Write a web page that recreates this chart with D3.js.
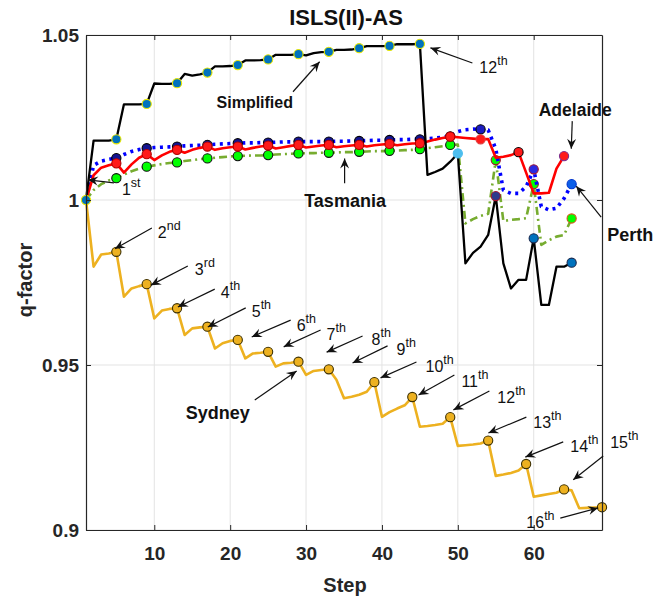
<!DOCTYPE html>
<html>
<head>
<meta charset="utf-8">
<script src="https://cdn.jsdelivr.net/npm/d3@7"></script>
<style>
body { margin: 0; background: #fff; }
svg { display: block; font-family: "Liberation Sans", Arial, Helvetica, sans-serif; }
</style>
</head>
<body>
<svg id="svg"></svg>
<script>

// ---- data (q-factor per step, step = index+1) ----
var simplified = [1.0, 1.018, 1.018, 1.018, 1.0184, 1.029, 1.029, 1.029, 1.0291, 1.0353, 1.0352, 1.0352, 1.0354,
    1.0382, 1.0377, 1.0381, 1.0386, 1.0405, 1.0405, 1.0406, 1.0409, 1.0423, 1.0423, 1.0424, 1.0426,
    1.044, 1.044, 1.044, 1.0442, 1.0438, 1.0445, 1.0448, 1.0449, 1.0455, 1.0455, 1.0456, 1.046,
    1.0466, 1.0466, 1.0466, 1.0467, 1.0472, 1.0472, 1.0472, 1.0473, 1.0076, 1.0085, 1.0095, 1.0116, 1.0141,
    0.9808, 0.984, 0.9859, 0.9894, 1.0012, 0.9808, 0.9732, 0.9758, 0.9758, 0.9884, 0.9682, 0.9682, 0.9798, 0.9798, 0.981];

var adelaide = [1.0, 1.0075, 1.0098, 1.0105, 1.0111, 1.0083, 1.0108, 1.0128, 1.0139, 1.0121, 1.0135, 1.0146, 1.0152,
    1.0143, 1.0152, 1.0158, 1.0162, 1.0152, 1.0157, 1.016, 1.0162, 1.0153, 1.0158, 1.0162, 1.0165,
    1.0156, 1.016, 1.0164, 1.0167, 1.0159, 1.0162, 1.0165, 1.0167, 1.016, 1.0163, 1.0165, 1.0167,
    1.0162, 1.0166, 1.0168, 1.017, 1.0166, 1.0169, 1.0171, 1.0172, 1.0177, 1.0183, 1.0188, 1.0192,
    1.019, 1.0188, 1.0186, 1.0184, 1.0185, 1.0128, 1.0131, 1.0136, 1.0145, 1.0083, 1.002, 1.002, 1.0022, 1.0095, 1.0133];

var perth = [1.0, 1.0105, 1.0118, 1.0123, 1.0127, 1.0138, 1.0147, 1.0153, 1.0157, 1.0159, 1.016, 1.0161, 1.0162,
    1.0164, 1.0165, 1.0166, 1.0167, 1.0169, 1.017, 1.0171, 1.0172, 1.0173, 1.0173, 1.0174, 1.0174,
    1.0175, 1.0176, 1.0176, 1.0177, 1.0177, 1.0177, 1.0177, 1.0177, 1.0178, 1.0178, 1.0179, 1.0179,
    1.018, 1.0181, 1.0181, 1.0182, 1.0183, 1.0183, 1.0184, 1.0184, 1.0186, 1.0188, 1.019, 1.0193,
    1.0207, 1.0213, 1.0215, 1.0214, 1.0212, 1.0155, 1.003, 1.002, 1.002, 1.004, 1.0093, 0.998, 0.997, 0.9975, 1.0005, 1.0048];

var tasmania = [1.0, 1.003, 1.0048, 1.0059, 1.0066, 1.0077, 1.0087, 1.0095, 1.0101, 1.0105, 1.0109, 1.0112, 1.0114,
    1.0118, 1.0121, 1.0124, 1.0126, 1.0128, 1.013, 1.0132, 1.0133, 1.0134, 1.0135, 1.0135, 1.0136,
    1.0138, 1.0139, 1.014, 1.0141, 1.0142, 1.0142, 1.0143, 1.0143, 1.0144, 1.0145, 1.0145, 1.0146,
    1.0147, 1.0148, 1.0148, 1.0149, 1.015, 1.0151, 1.0152, 1.0154, 1.0157, 1.016, 1.0163, 1.0167, 1.0168,
    0.9929, 0.9942, 0.9952, 0.9958, 1.0121, 0.9936, 0.994, 0.9942, 0.9945, 1.0048, 0.9864, 0.9878, 0.9889, 0.9894, 0.9944];

var sydney = [1.0, 0.9798, 0.9835, 0.9838, 0.9843, 0.9707, 0.9732, 0.9739, 0.9745, 0.9641, 0.9665, 0.967, 0.9672,
    0.9591, 0.9611, 0.9614, 0.9616, 0.955, 0.9566, 0.9573, 0.9576, 0.952, 0.9535, 0.9537, 0.954,
    0.9495, 0.9505, 0.9507, 0.951, 0.947, 0.9482, 0.9485, 0.9487, 0.9455, 0.9399, 0.9404, 0.941, 0.9419, 0.9448,
    0.9343, 0.9357, 0.9368, 0.9378, 0.9403, 0.9313, 0.9315, 0.9318, 0.9322, 0.9342,
    0.9255, 0.9257, 0.9259, 0.9262, 0.9271, 0.9164, 0.9168, 0.9173, 0.918, 0.92,
    0.9101, 0.9105, 0.9109, 0.9113, 0.9123, 0.912, 0.9066, 0.9067, 0.9068, 0.9069];

// steps that carry a marker
var simplifiedMarks = [1, 5, 9, 13, 17, 21, 25, 29, 33, 37, 41, 45, 50, 55, 60, 65];
var adelaideMarks = [5, 9, 13, 17, 21, 25, 29, 33, 37, 41, 45, 49, 53, 58, 64];
var perthMarks = [5, 9, 13, 17, 21, 25, 29, 33, 37, 41, 45, 49, 53, 60, 65];
var tasmaniaMarks = [5, 9, 13, 17, 21, 25, 29, 33, 37, 41, 45, 49, 55, 60, 65];
var sydneyMarks = [5, 9, 13, 17, 21, 25, 29, 33, 39, 44, 49, 54, 59, 64, 69];

var xTicks = [10, 20, 30, 40, 50, 60];
var yTicks = [0.9, 0.95, 1, 1.05];
var yTickLabels = ["0.9", "0.95", "1", "1.05"];

// annotations, in data units (step, q)
var ordinals = [
    {num: "1",  sup: "st", lx: 5.74,  ly: 1.0015, tx: 4.68,  ty: 1.0052, hx: 1.26,  hy: 1.0061},
    {num: "2",  sup: "nd", lx: 10.47, ly: 0.9885, tx: 9.68,  ty: 0.9915, hx: 4.82,  hy: 0.9852},
    {num: "3",  sup: "rd", lx: 15.34, ly: 0.9773, tx: 14.42, ty: 0.98,   hx: 9.55,  hy: 0.9742},
    {num: "4",  sup: "th", lx: 18.76, ly: 0.9703, tx: 17.97, ty: 0.973,  hx: 13.11, hy: 0.9676},
    {num: "5",  sup: "th", lx: 22.84, ly: 0.9645, tx: 22.05, ty: 0.9673, hx: 17.05, hy: 0.9615},
    {num: "6",  sup: "th", lx: 28.76, ly: 0.9603, tx: 27.97, ty: 0.9636, hx: 22.84, hy: 0.9585},
    {num: "7",  sup: "th", lx: 32.71, ly: 0.9576, tx: 31.92, ty: 0.9606, hx: 27.05, hy: 0.9555},
    {num: "8",  sup: "th", lx: 38.63, ly: 0.9561, tx: 37.45, ty: 0.9588, hx: 32.71, hy: 0.9539},
    {num: "9",  sup: "th", lx: 41.92, ly: 0.953,  tx: 40.74, ty: 0.9558, hx: 36.13, hy: 0.9506},
    {num: "10", sup: "th", lx: 45.74, ly: 0.9479, tx: 44.55, ty: 0.9509, hx: 39.82, hy: 0.9461},
    {num: "11", sup: "th", lx: 50.47, ly: 0.9433, tx: 49.55, ty: 0.947,  hx: 44.82, hy: 0.9409},
    {num: "12", sup: "th", lx: 55.21, ly: 0.9385, tx: 54.16, ty: 0.9421, hx: 49.42, hy: 0.9364},
    {num: "13", sup: "th", lx: 59.95, ly: 0.9309, tx: 59.03, ty: 0.9342, hx: 54.03, hy: 0.9294},
    {num: "14", sup: "th", lx: 64.82, ly: 0.9236, tx: 63.89, ty: 0.9267, hx: 58.89, hy: 0.9221},
    {num: "15", sup: "th", lx: 70.08, ly: 0.9248, tx: 69.16, ty: 0.9224, hx: 65.21, hy: 0.9152},
    {num: "16", sup: "th", lx: 59.03, ly: 0.9006, tx: 63.5,  ty: 0.9036, hx: 68.5,  hy: 0.9067},
    {num: "12", sup: "th", lx: 52.84, ly: 1.0385, tx: 51.92, ty: 1.0415, hx: 46.39, hy: 1.0461}
];

var names = [
    {txt: "Simplified", size: 16,   anchor: "middle", lx: 23.24, ly: 1.0279, tx: 28.28, ty: 1.0328, hx: 31.79, hy: 1.0419},
    {txt: "Tasmania",   size: 18,   anchor: "middle", lx: 35.14, ly: 0.9979, tx: 35.08, ty: 1.0051, hx: 35.08, hy: 1.0126},
    {txt: "Adelaide",   size: 17.5, anchor: "middle", lx: 65.47, ly: 1.0255, tx: 65.08, ty: 1.0239, hx: 64.95, hy: 1.0155},
    {txt: "Perth",      size: 18,   anchor: "start",  lx: 69.68, ly: 0.9876, tx: 68.89, ty: 0.9948, hx: 65.61, hy: 1.0042},
    {txt: "Sydney",     size: 18,   anchor: "middle", lx: 18.37, ly: 0.9336, tx: 23.24, ty: 0.9394, hx: 28.76, hy: 0.9482}
];

var width = 655, height = 600;
var svg, x, y;

function initSVG(){
    svg = d3.select("#svg").attr("width", width).attr("height", height);

    x = d3.scaleLinear().domain([1, 69]).range([86, 602]);
    y = d3.scaleLinear().domain([0.9, 1.05]).range([530, 35]);

    var defs = svg.append("defs");
    defs.append("marker")
        .attr("id", "head")
        .attr("viewBox", "-11 -5 12 10")
        .attr("refX", 0).attr("refY", 0)
        .attr("markerWidth", 12).attr("markerHeight", 10)
        .attr("markerUnits", "userSpaceOnUse")
        .attr("orient", "auto")
        .append("path")
        .attr("d", "M0,0 L-10,-4.5 L-6.5,0 L-10,4.5 Z")
        .attr("fill", "#111");
}

function drawGrid(){
    var g = svg.append("g").attr("class", "grid");
    g.selectAll(".gx").data(xTicks).enter().append("line")
        .attr("x1", d => x(d)).attr("x2", d => x(d))
        .attr("y1", y(0.9)).attr("y2", y(1.05))
        .attr("stroke", "#e3e3e3").attr("stroke-width", 1);
    g.selectAll(".gy").data(yTicks).enter().append("line")
        .attr("x1", x(1)).attr("x2", x(69))
        .attr("y1", d => y(d)).attr("y2", d => y(d))
        .attr("stroke", "#e3e3e3").attr("stroke-width", 1);
}

function drawAxes(){
    var col = "#262626";

    var bottom = svg.append("g").attr("transform", "translate(0," + y(0.9) + ")")
        .call(d3.axisBottom(x).tickValues(xTicks).tickSize(-5).tickSizeOuter(0).tickPadding(17));
    var top = svg.append("g").attr("transform", "translate(0," + y(1.05) + ")")
        .call(d3.axisTop(x).tickValues(xTicks).tickSize(-5).tickSizeOuter(0).tickFormat(""));
    var left = svg.append("g").attr("transform", "translate(" + x(1) + ",0)")
        .call(d3.axisLeft(y).tickValues(yTicks).tickSize(-5).tickSizeOuter(0).tickPadding(7)
            .tickFormat((d, i) => yTickLabels[i]));
    var right = svg.append("g").attr("transform", "translate(" + x(69) + ",0)")
        .call(d3.axisRight(y).tickValues(yTicks).tickSize(-5).tickSizeOuter(0).tickFormat(""));

    [bottom, top, left, right].forEach(function(a){
        a.select(".domain").attr("stroke", col).attr("stroke-width", 1.2);
        a.selectAll(".tick line").attr("stroke", col).attr("stroke-width", 1);
        a.selectAll(".tick text")
            .attr("fill", col)
            .style("font-family", "'Liberation Sans', Arial, sans-serif")
            .style("font-size", "19px")
            .style("font-weight", "bold");
    });

    svg.append("text")
        .attr("x", 346).attr("y", 25)
        .attr("text-anchor", "middle")
        .style("font-size", "22px").style("font-weight", "bold")
        .attr("fill", "#111")
        .text("ISLS(II)-AS");

    svg.append("text")
        .attr("x", 345).attr("y", 592)
        .attr("text-anchor", "middle")
        .style("font-size", "20px").style("font-weight", "bold")
        .attr("fill", col)
        .text("Step");

    svg.append("text")
        .attr("transform", "translate(32,280) rotate(-90)")
        .attr("text-anchor", "middle")
        .style("font-size", "20px").style("font-weight", "bold")
        .attr("fill", col)
        .text("q-factor");
}

function drawSeries(values, marks, st){
    var line = d3.line().x((d, i) => x(i + 1)).y(d => y(d));
    svg.append("path")
        .datum(values)
        .attr("d", line)
        .attr("fill", "none")
        .attr("stroke", st.color)
        .attr("stroke-width", st.width)
        .attr("stroke-dasharray", st.dash || null)
        .attr("stroke-linejoin", "round");

    svg.append("g").selectAll("circle").data(marks).enter().append("circle")
        .attr("cx", d => x(d))
        .attr("cy", d => y(values[d - 1]))
        .attr("r", 4.6)
        .attr("fill", d => (st.over[d] && st.over[d][0]) || st.fill)
        .attr("stroke", d => (st.over[d] && st.over[d][1]) || st.edge)
        .attr("stroke-width", 1.1);
}

function drawArrow(d){
    svg.append("line")
        .attr("x1", x(d.tx)).attr("y1", y(d.ty))
        .attr("x2", x(d.hx)).attr("y2", y(d.hy))
        .attr("stroke", "#111").attr("stroke-width", 1.2)
        .attr("marker-end", "url(#head)");
}

function drawAnnotations(){
    ordinals.forEach(function(d){
        drawArrow(d);
        var t = svg.append("text")
            .attr("x", x(d.lx)).attr("y", y(d.ly))
            .attr("fill", "#111")
            .style("font-size", "16px");
        t.append("tspan").text(d.num);
        t.append("tspan").attr("dy", -8).style("font-size", "12.5px").text(d.sup);
    });

    names.forEach(function(d){
        drawArrow(d);
        svg.append("text")
            .attr("x", x(d.lx)).attr("y", y(d.ly))
            .attr("text-anchor", d.anchor)
            .attr("fill", "#111")
            .style("font-size", d.size + "px")
            .style("font-weight", "bold")
            .text(d.txt);
    });
}

function init(){
    initSVG();
    drawGrid();

    drawSeries(tasmania, tasmaniaMarks, {
        color: "#77ac30", width: 2.6, dash: "8,4,2,4", fill: "#00ff00", edge: "#111",
        over: {55: [null, "#a2142f"], 60: [null, "#a2142f"], 65: [null, "#d95319"]}
    });
    drawSeries(perth, perthMarks, {
        color: "#0000ff", width: 3.6, dash: "3,4.5", fill: "#14148f", edge: "#000",
        over: {53: ["#1c1cc0", null], 60: ["#2a2ae0", "#a2142f"], 65: ["#0b5fe8", "#0033cc"]}
    });
    drawSeries(adelaide, adelaideMarks, {
        color: "#ff0000", width: 2.6, fill: "#ff1a1a", edge: "#b00000",
        over: {53: [null, "#e04040"], 58: [null, "#000"], 64: [null, "#7e2f8e"]}
    });
    drawSeries(sydney, sydneyMarks, {
        color: "#edb120", width: 2.6, fill: "#edb120", edge: "#3d3000", over: {}
    });
    drawSeries(simplified, simplifiedMarks, {
        color: "#000", width: 2.3, fill: "#0072bd", edge: "#e8e800",
        over: {50: ["#4dbeee", "#4dbeee"], 55: ["#2e3a8c", "#a2142f"], 60: ["#0072bd", "#1a2a50"], 65: ["#0072bd", "#1a2a50"]}
    });

    drawAxes();
    drawAnnotations();
}

document.addEventListener("DOMContentLoaded", function(event) {
    init();
});

</script>
</body>
</html>
